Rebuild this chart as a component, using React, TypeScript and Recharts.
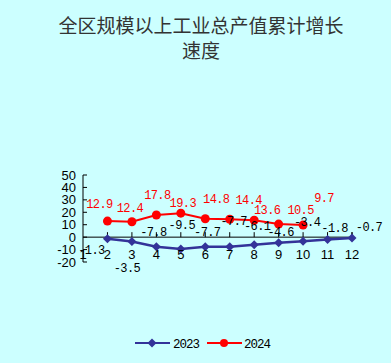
import React from 'react';
import { LineChart, Line, XAxis, YAxis, ReferenceLine, LabelList, Legend } from 'recharts';

const months = ['1', '2', '3', '4', '5', '6', '7', '8', '9', '10', '11', '12'];
const growth2023: (number | null)[] = [null, -1.3, -3.5, -7.8, -9.5, -7.7, -7.7, -6.1, -4.6, -3.4, -1.8, -0.7];
const growth2024: (number | null)[] = [null, 12.9, 12.4, 17.8, 19.3, 14.8, 14.4, 13.6, 10.5, 9.7, null, null];
const yTicks = [-20, -10, 0, 10, 20, 30, 40, 50];

const data = months.map((m, i) => ({ month: m, y2023: growth2023[i], y2024: growth2024[i] }));

const BLUE = '#333399';
const RED = '#ff0000';

// label nudges, to follow the original's cluttered label placement
const nudge2023 = [[0, 0], [-16, 11], [-5, 26], [-3, -15], [1, -24], [2, -15], [4, -26], [3, -19], [2, -11], [4, -20], [7, -12], [17, -12]];
const nudge2024 = [[0, 0], [-8, -18], [-2, -14], [1, -21], [2, -11], [11, -20], [19, -20], [13, -11], [22, -15], [21, -28]];

const makeLabel = (nudge: number[][], color: string) => (props: any) => {
  const { value, index } = props;
  if (value === null || value === undefined) return null;
  const x = props.x ?? props.viewBox?.x;
  const y = props.y ?? props.viewBox?.y;
  const [dx, dy] = nudge[index] || [0, 0];
  return (
    <text
      x={x + dx}
      y={y + dy + 4.5}
      textAnchor="middle"
      fill={color}
      fontSize={12}
      letterSpacing={-0.6}
      fontFamily="Liberation Mono, monospace"
    >
      {value}
    </text>
  );
};

const Diamond = (props: any) => {
  const { cx, cy, index } = props;
  if (cy === null || cy === undefined || cx === null) return <g key={index} />;
  return <path key={index} d={`M${cx},${cy - 4.5}L${cx + 4.5},${cy}L${cx},${cy + 4.5}L${cx - 4.5},${cy}Z`} fill={BLUE} />;
};

const XTick = (props: any) => {
  const { x, y, payload } = props;
  return (
    <text x={x} y={y - 3} textAnchor="middle" fill="#000" fontSize={13} fontFamily="Liberation Sans, Arial, sans-serif">
      {payload.value}
    </text>
  );
};

const LegendBox = () => (
  <svg width={391} height={20}>
    <line x1={135} y1={10} x2={170} y2={10} stroke={BLUE} strokeWidth={2} />
    <path d="M152,5.5L156.5,10L152,14.5L147.5,10Z" fill={BLUE} />
    <text x={173} y={14.5} fontSize={12.5} fontFamily="Liberation Mono, monospace" letterSpacing={-1} fill="#000">2023</text>
    <line x1={207} y1={10} x2={242} y2={10} stroke={RED} strokeWidth={2} />
    <circle cx={224} cy={10} r={4} fill={RED} />
    <text x={244} y={14.5} fontSize={12.5} fontFamily="Liberation Mono, monospace" letterSpacing={-1} fill="#000">2024</text>
  </svg>
);

export default function App() {
  return (
    <div style={{ position: 'fixed', left: 0, top: 0, width: 391, height: 363, background: '#ccffff' }}>
      <div
        style={{
          position: 'absolute',
          top: 12,
          left: 0,
          width: 402,
          textAlign: 'center',
          fontFamily: '"Noto Sans CJK SC", sans-serif',
          fontSize: 19,
          lineHeight: '25px',
          color: '#333',
        }}
      >
        全区规模以上工业总产值累计增长
        <br />
        速度
      </div>
      <LineChart width={391} height={363} data={data} margin={{ top: 175, right: 39, bottom: 81, left: 0 }}>
        <XAxis dataKey="month" height={20} axisLine={false} tickLine={false} tickSize={0} tickMargin={0} tick={<XTick />} interval={0} />
        <YAxis
          width={83}
          domain={[-20, 50]}
          ticks={yTicks}
          interval={0}
          axisLine={{ stroke: '#000' }}
          tickLine={{ stroke: '#000' }}
          tickSize={-4}
          tickMargin={11}
          tick={{ fill: '#000', fontSize: 13, fontFamily: 'Liberation Sans, Arial, sans-serif' }}
        />
        <ReferenceLine y={0} stroke="#000" />
        {months.slice(1).map((m) => (
          <ReferenceLine key={m} segment={[{ x: m, y: 0 }, { x: m, y: 4 }]} position="start" stroke="#000" />
        ))}
        <ReferenceLine segment={[{ x: '12', y: 0 }, { x: '12', y: 4 }]} position="end" stroke="#000" />
        <Line dataKey="y2023" stroke={BLUE} strokeWidth={2.5} dot={Diamond} isAnimationActive={false}>
          <LabelList dataKey="y2023" content={makeLabel(nudge2023, '#000')} />
        </Line>
        <Line dataKey="y2024" stroke={RED} strokeWidth={2} dot={{ r: 4.5, fill: RED, stroke: RED, strokeWidth: 0 }} isAnimationActive={false}>
          <LabelList dataKey="y2024" content={makeLabel(nudge2024, RED)} />
        </Line>
        <Legend verticalAlign="middle" align="center" content={<LegendBox />} wrapperStyle={{ top: 333, left: 0, width: 391 }} />
      </LineChart>
    </div>
  );
}
